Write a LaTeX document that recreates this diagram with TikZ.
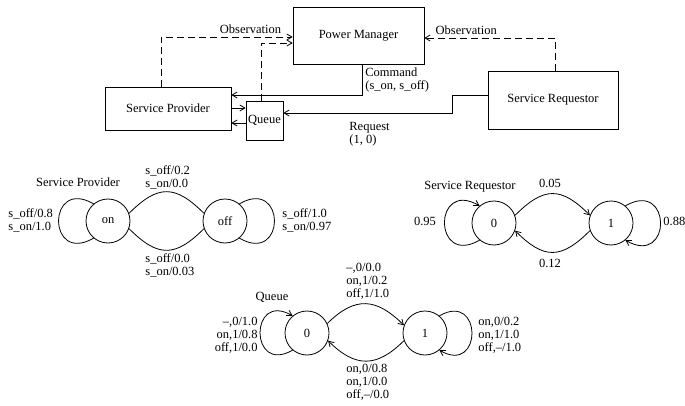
\documentclass[tikz,border=0pt]{standalone}
\usepackage{fontspec}
\setmainfont{Liberation Serif}
\usepackage{tikz}
\usetikzlibrary{calc,positioning,arrows.meta}

\begin{document}
\begin{tikzpicture}[x=1pt, y=1pt, line width=0.8pt,
  font=\fontsize{12.5}{13}\selectfont,
  box/.style={draw, inner sep=0pt},
  state/.style={draw, circle, minimum size=44pt, inner sep=0pt},
  arr/.style={-{Straight Barb[length=5pt,width=6pt]}},
  obs/.style={arr, dash pattern=on 7pt off 4pt},
  lbl/.style={inner sep=0pt, align=left}]
  \useasboundingbox (0,0) rectangle (685,405);

  % System blocks
  \node[box, minimum width=131pt, minimum height=57pt] (pm) at (358.5,369.5) {Power Manager};
  \node[box, minimum width=126pt, minimum height=43pt] (sp) at (168,296.5) {Service Provider};
  \node[box, minimum width=37pt, minimum height=39pt] (queue) at (264.5,284.5) {Queue};
  \node[box, minimum width=130pt, minimum height=58pt] (sr) at (553,305) {Service Requestor};

  % Observations (dashed)
  \draw[obs] ([xshift=-7pt]sp.north) |- node[lbl, above=3pt, pos=0.84] {Observation} ([yshift=-1.5pt]pm.west);
  \draw[obs] ([xshift=-3.5pt]queue.north) |- ([yshift=-7.5pt]pm.west);
  \draw[obs] ([xshift=2pt]sr.north) |- node[lbl, above=3pt, pos=0.84] {Observation} ([yshift=-2.5pt]pm.east);

  % Command and request
  \draw[arr] ([xshift=3.5pt]pm.south) |- node[lbl, right=3pt, pos=0.25] {Command\\(s\_on, s\_off)} ([yshift=13.5pt]sp.east);
  \draw[arr] ([yshift=5pt]sr.west) -- ++(-35,0) |- ([yshift=7.5pt]queue.east);
  \node[lbl, anchor=north west] (req) at (349,283) {Request\\(1, 0)};

  % Provider <-> queue
  \draw[arr] ([yshift=0.5pt]sp.east) -- ([yshift=0.5pt]sp.east -| queue.west);
  \draw[arr] ([yshift=-2.5pt]queue.west) -- ([yshift=-2.5pt]queue.west -| sp.east);

  % Service provider chain
  \node[state] (on) at (108,184) {on};
  \node[state] (off) at (225,184) {off};
  \draw (on.20) to[out=45, in=135, looseness=1.4] (off.160);
  \draw (on.-20) to[out=-45, in=-135, looseness=1.4] (off.200);
  \draw (on.130) .. controls +(150:54) and +(210:54) .. (on.230);
  \draw (off.50) .. controls +(30:54) and +(-30:54) .. (off.-50);
  \node[lbl] (splbl) at (78,223) {Service Provider};
  \node[lbl, anchor=west] at (145,227.5) {s\_off/0.2\\s\_on/0.0};
  \node[lbl, anchor=west] at (145,140) {s\_off/0.0\\s\_on/0.03};
  \node[lbl, anchor=west] at (8,185) {s\_off/0.8\\s\_on/1.0};
  \node[lbl, anchor=west] at (282,185) {s\_off/1.0\\s\_on/0.97};

  % Service requestor chain
  \node[state] (r0) at (494,182) {0};
  \node[state] (r1) at (611,182) {1};
  \draw[arr] (r0.20) to[out=45, in=135, looseness=1.4] (r1.160);
  \draw[arr] (r1.200) to[out=-135, in=-45, looseness=1.4] (r0.-20);
  \draw[arr] (r0.230) .. controls +(210:54) and +(150:54) .. (r0.130);
  \draw[arr] (r1.50) .. controls +(30:54) and +(-30:54) .. (r1.-50);
  \node[lbl] (srlbl) at (470,218) {Service Requestor};
  \node[lbl] at (550,222) {0.05};
  \node[lbl] at (550,142) {0.12};
  \node[lbl] at (425,184) {0.95};
  \node[lbl, anchor=west] at (663,184) {0.88};

  % Queue chain
  \node[state] (q0) at (307,72) {0};
  \node[state] (q1) at (425,72) {1};
  \draw[arr] (q0.25) to[out=45, in=135, looseness=1.3] (q1.160);
  \draw[arr] (q1.200) to[out=-135, in=-45, looseness=1.3] (q0.-20);
  \draw[arr] (q0.230) .. controls +(210:50) and +(150:50) .. (q0.130);
  \draw[arr] (q1.50) .. controls +(30:50) and +(-30:50) .. (q1.-50);
  \node[lbl] (qlbl) at (272,108) {Queue};
  \node[lbl, anchor=west] at (346,124) {--,0/0.0\\on,1/0.2\\off,1/1.0};
  \node[lbl, anchor=east, align=right] at (258,70) {--,0/1.0\\on,1/0.8\\off,1/0.0};
  \node[lbl, anchor=west] at (478,70) {on,0/0.2\\on,1/1.0\\off,--/1.0};
  \node[lbl, anchor=west] at (346,23) {on,0/0.8\\on,1/0.0\\off,--/0.0};
\end{tikzpicture}
\end{document}
